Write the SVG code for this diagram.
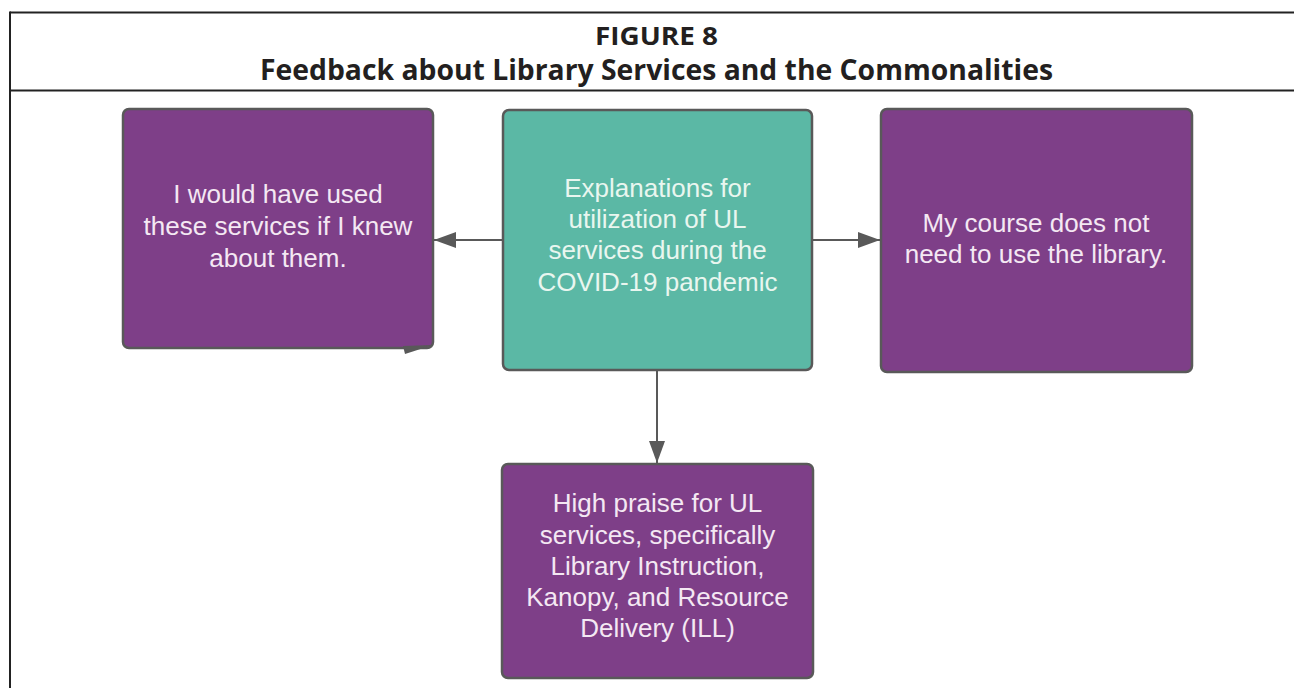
<svg xmlns="http://www.w3.org/2000/svg" width="1294" height="688" viewBox="0 0 1294 688">
  <style>
    .frame { stroke: #222; stroke-width: 2; fill: none; }
    .title { font-family: "Open Sans", "Liberation Sans", sans-serif; font-weight: bold; fill: #231f20; text-anchor: middle; }
    .box { stroke: #595959; stroke-width: 2.5; }
    .purple { fill: #7e3f88; }
    .teal { fill: #5bb8a5; }
    .label { font-family: "Liberation Sans", Arial, sans-serif; font-size: 26px; text-anchor: middle; }
    .onpurple { fill: #f4e8f3; }
    .onteal { fill: #e9f6ef; }
    .conn { stroke: #595959; stroke-width: 2; fill: none; }
  </style>
  <defs>
    <marker id="head" viewBox="0 0 22 16" refX="22" refY="8" markerWidth="22" markerHeight="16" markerUnits="userSpaceOnUse" orient="auto">
      <path d="M0,0 L22,8 L0,16 Z" fill="#595959"/>
    </marker>
  </defs>

  <rect width="1294" height="688" fill="#ffffff"/>

  <!-- figure frame and header -->
  <g id="header">
    <line class="frame" x1="10" y1="12.5" x2="1294" y2="12.5"/>
    <line class="frame" x1="10" y1="11.5" x2="10" y2="688"/>
    <line class="frame" x1="10" y1="90.5" x2="1294" y2="90.5"/>
    <text class="title" x="656.5" y="45" font-size="25" textLength="123" lengthAdjust="spacingAndGlyphs">FIGURE 8</text>
    <text class="title" x="656.5" y="80" font-size="29" textLength="793" lengthAdjust="spacingAndGlyphs">Feedback about Library Services and the Commonalities</text>
  </g>

  <!-- connectors -->
  <g id="connectors">
    <line class="conn" x1="503" y1="240" x2="434" y2="240" marker-end="url(#head)"/>
    <line class="conn" x1="812" y1="240" x2="880" y2="240" marker-end="url(#head)"/>
    <line class="conn" x1="657" y1="370" x2="657" y2="463" marker-end="url(#head)"/>
  </g>

  <g id="node-unaware">
    <rect class="box purple" x="123" y="109" width="310" height="239" rx="6"/>
    <polygon points="403,346 433,345 405,354" fill="#595959"/>
    <text class="label onpurple" x="278" y="203">I would have used</text>
    <text class="label onpurple" x="278" y="235">these services if I knew</text>
    <text class="label onpurple" x="278" y="267">about them.</text>
  </g>

  <g id="node-explanations">
    <rect class="box teal" x="503" y="110" width="309" height="260" rx="6"/>
    <text class="label onteal" x="657.5" y="197">Explanations for</text>
    <text class="label onteal" x="657.5" y="228">utilization of UL</text>
    <text class="label onteal" x="657.5" y="259">services during the</text>
    <text class="label onteal" x="657.5" y="291">COVID-19 pandemic</text>
  </g>

  <g id="node-course">
    <rect class="box purple" x="881" y="109" width="311" height="263" rx="6"/>
    <text class="label onpurple" x="1036" y="232">My course does not</text>
    <text class="label onpurple" x="1036" y="263">need to use the library.</text>
  </g>

  <g id="node-praise">
    <rect class="box purple" x="502" y="464" width="311" height="214" rx="6"/>
    <text class="label onpurple" x="657.5" y="512">High praise for UL</text>
    <text class="label onpurple" x="657.5" y="543.5">services, specifically</text>
    <text class="label onpurple" x="657.5" y="575">Library Instruction,</text>
    <text class="label onpurple" x="657.5" y="606">Kanopy, and Resource</text>
    <text class="label onpurple" x="657.5" y="637">Delivery (ILL)</text>
  </g>
</svg>
